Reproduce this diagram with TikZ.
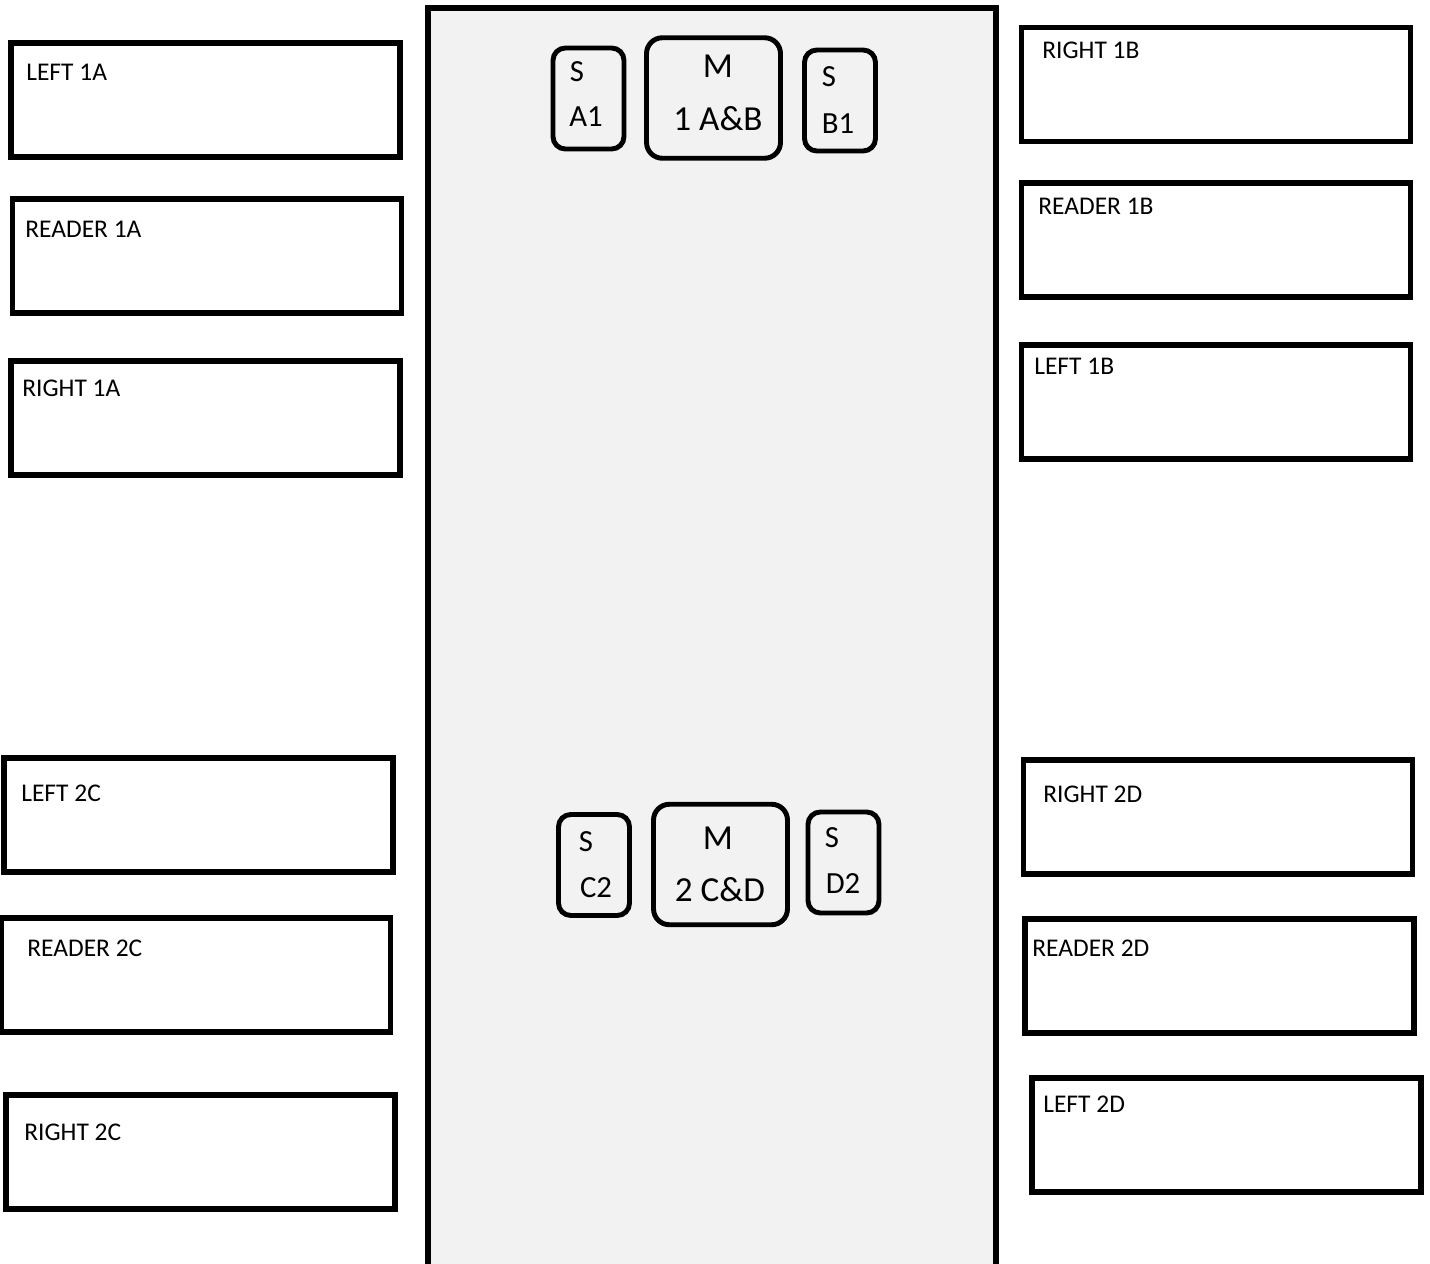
\documentclass[tikz,border=0pt]{standalone}
\usepackage{fontspec}
\setmainfont{Carlito}
\definecolor{floorgrey}{RGB}{242,242,242}
\tikzset{
  panel/.style={draw=black,line width=3.3pt,fill=white,minimum width=7.78cm,minimum height=2.28cm,inner sep=0pt},
  tag/.style={anchor=west,inner sep=0pt,font=\fontsize{14.5}{17}\selectfont},
  seat/.style={draw=black,line width=2.8pt,rounded corners=7pt,minimum width=1.42cm,minimum height=2.02cm,inner sep=0pt},
  master/.style={seat,rounded corners=9pt,minimum width=2.68cm,minimum height=2.41cm},
  seatlab/.style={inner sep=0pt,font=\fontsize{17.5}{20}\selectfont},
  masterlab/.style={inner sep=0pt,font=\fontsize{20}{24}\selectfont},
}
\begin{document}
\begin{tikzpicture}[x=0.02cm,y=-0.02cm]
  \path[use as bounding box] (0,0) rectangle (1430,1264);
  \fill[white] (0,0) rectangle (1430,1264);

  % central floor
  \draw[black,line width=3.1pt,fill=floorgrey] (428,1290) -- (428,8) -- (996,8) -- (996,1290);

  % side panels
  \foreach \cx/\cy/\tx/\ty/\id/\txt in {
      205.5/100/26/72/l1a/LEFT 1A,
      207/256/25/229/r1a/READER 1A,
      205.5/418/22/388/g1a/RIGHT 1A,
      198.5/815/21/793/l2c/LEFT 2C,
      196/975/27/948/r2c/READER 2C,
      200.5/1152/24/1132/g2c/RIGHT 2C,
      1216/84.5/1042/50/g1b/RIGHT 1B,
      1216/240/1038/206/r1b/READER 1B,
      1216/402/1034/366/l1b/LEFT 1B,
      1218/817/1043/794/g2d/RIGHT 2D,
      1219.5/976/1032/948/r2d/READER 2D,
      1226.5/1135/1043/1104/l2d/LEFT 2D}{
    \node[panel] (\id) at (\cx,\cy) {};
    \node[tag] (\id-t) at (\tx,\ty) {\txt};
  }

  % seats, group 1
  \node[seat] (sa1) at (588.5,98.5) {};
  \node[seatlab] (sa1-s) at (577,72) {S};
  \node[seatlab] (sa1-n) at (586,117) {A1};
  \node[master] (m1) at (713.5,98) {};
  \node[masterlab] (m1-m) at (718,66) {M};
  \node[masterlab] (m1-n) at (718,119) {1 A\&B};
  \node[seat] (sb1) at (840,100.5) {};
  \node[seatlab] (sb1-s) at (829,77) {S};
  \node[seatlab] (sb1-n) at (838,124) {B1};

  % seats, group 2
  \node[seat] (sc2) at (594,865) {};
  \node[seatlab] (sc2-s) at (586,842) {S};
  \node[seatlab] (sc2-n) at (596,888) {C2};
  \node[master] (m2) at (720.5,864.5) {};
  \node[masterlab] (m2-m) at (718,838) {M};
  \node[masterlab] (m2-n) at (720,890) {2 C\&D};
  \node[seat] (sd2) at (843.5,862.5) {};
  \node[seatlab] (sd2-s) at (832,838) {S};
  \node[seatlab] (sd2-n) at (843,884) {D2};
\end{tikzpicture}
\end{document}
